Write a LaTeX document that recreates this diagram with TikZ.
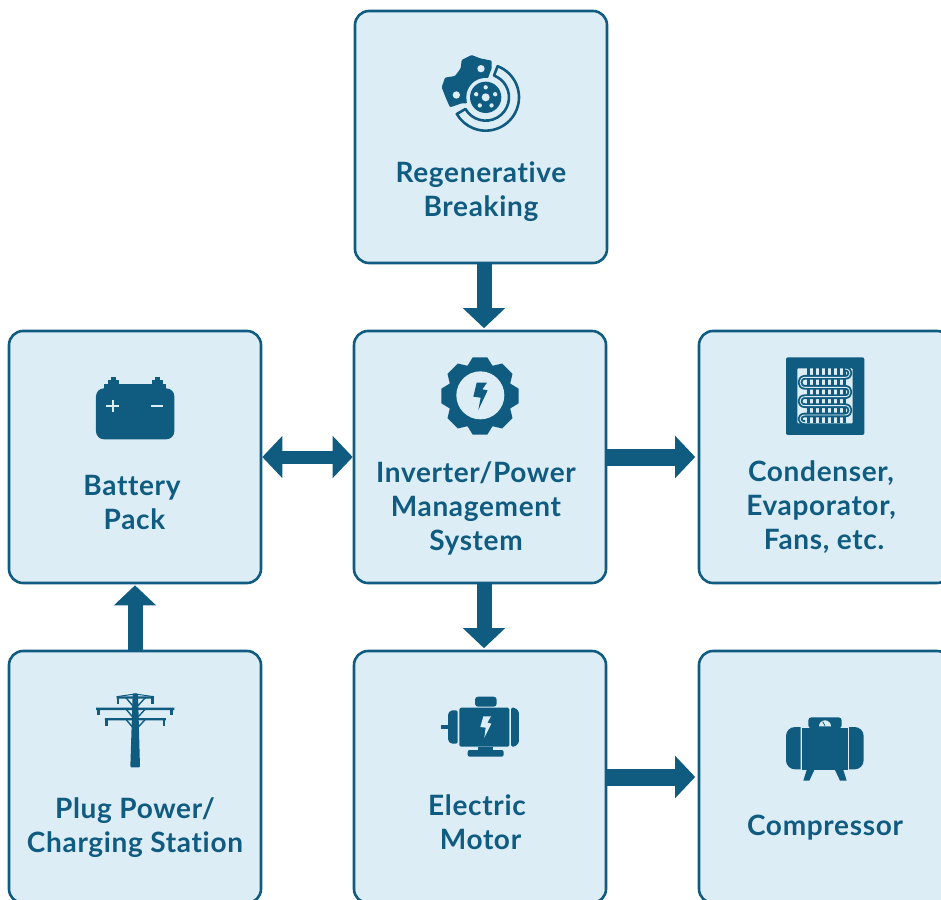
\documentclass[tikz,border=0pt]{standalone}
\usepackage{fontspec}
\setmainfont{Lato}[LetterSpace=2.4,Ligatures=NoCommon]
\usetikzlibrary{arrows.meta}
\definecolor{teal}{HTML}{0F5C80}
\definecolor{pale}{HTML}{DDEDF6}
\tikzset{
    iconzoom/.style={x=0.3333pt,y=-0.3333pt},
    blockarrow/.style={draw=teal,line width=15pt,-{Triangle[length=20pt,width=41pt]}},
    darkfill/.style={fill=teal,draw=none},
    palefill/.style={fill=pale,draw=none}
}
\begin{document}
\begin{tikzpicture}[x=1pt,y=-1pt,line join=round]
    \useasboundingbox (0,0) rectangle (941,899);
    \clip (0,0) rectangle (941,899);
    \begin{scope}[every node/.style={rectangle,draw=teal,fill=pale,line width=2.6pt,rounded corners=14pt,minimum size=252pt}]
        \node (regen) at (481,137) {};
        \node (battery) at (135,457) {};
        \node (inverter) at (480,457) {};
        \node (condenser) at (825,457) {};
        \node (plug) at (135,777) {};
        \node (motor) at (480,777) {};
        \node (compressor) at (825,777) {};
    \end{scope}
    \begin{scope}[every node/.style={text=teal,font=\fontsize{28}{34}\bfseries\selectfont,align=center}]
        \node (regentext) at (481,192) {Regenerative\\Breaking};
        \node (batterytext) at (132,502) {Battery\\\hspace*{5pt}Pack};
        \node (invertertext) at (476,508) {Inverter/Power\\Management\\System};
        \node (condensertext) at (821,507) {Condenser,\\Evaporator,\\\hspace*{6pt}Fans, etc.};
        \node (plugtext) at (135,828) {Plug Power/\\Charging Station};
        \node (motortext) at (477,822) {Electric\\\hspace*{7pt}Motor};
        \node (compressortext) at (825,828) {Compressor};
    \end{scope}
    \draw[blockarrow,shorten >=1.5pt] ([xshift=3pt]regen.south) -- ([xshift=4pt]inverter.north);
    \draw[blockarrow,shorten >=1.5pt] ([xshift=4pt]inverter.south) -- ([xshift=4pt]motor.north);
    \draw[blockarrow,shorten >=1pt] (plug.north) -- (battery.south);
    \draw[blockarrow,line width=17pt,shorten >=2.5pt] (inverter.east) -- (condenser.west);
    \draw[blockarrow,line width=17pt,shorten >=2.5pt] (motor.east) -- (compressor.west);
    \draw[blockarrow,line width=13pt,{Triangle[length=20pt,width=41pt]}-{Triangle[length=20pt,width=41pt]}] (battery.east) -- (inverter.west);
    % brake
    \begin{scope}[shift={(420,40)},iconzoom]
        \fill[teal,rounded corners=1pt] (65,142) -- (75,113) -- (105,108) -- (122,85) -- (125,60) -- (155,45) -- (180,55) -- (215,62) -- (215,85) -- (200,125) -- (140,190) -- (125,190) -- (90,202) -- (78,175) -- cycle;
        \fill[palefill] (197,172) circle (58);
        \fill[darkfill] (197,172) circle (47);
        \fill[palefill] (197,172) circle (12);
        \foreach \a in {-90,-18,54,126,198}
            \fill[palefill] (197,172) ++(\a:30) circle (6.5);
        \fill[palefill] (183,86) circle (11) (109,165) circle (11);
        \draw[teal,line width=2.6pt] ([shift={(197,172)}]-69:100) arc[start angle=-69,end angle=150,radius=100] -- ([shift={(197,172)}]150:70) arc[start angle=150,end angle=-69,radius=70] -- cycle;
    \end{scope}
    % battery
    \begin{scope}[shift={(80,360)},iconzoom]
        \fill[darkfill,rounded corners=8pt] (48,85) rectangle (283,238);
        \fill[darkfill] (72,73) rectangle (258,95);
        \foreach \t in {100,232} {
            \fill[darkfill] (\t-16,60) rectangle (\t+16,71);
            \fill[darkfill] (\t-8,52) rectangle (\t+8,62);
        }
        \draw[pale,line width=1.8pt] (79,138) -- (117,138) (98,119) -- (98,157) (212,138) -- (250,138);
    \end{scope}
    % gear
    \begin{scope}[shift={(425,345)},iconzoom]
        \foreach \a in {0,45,...,315}
            \fill[darkfill,rotate around={\a:(165,153)}] (143,37) -- (187,37) -- (210,75) -- (120,75) -- cycle;
        \fill[darkfill] (165,153) circle (98);
        \fill[palefill] (166,151) circle (72);
        \fill[teal] (155,113) -- (186,113) -- (172,133) -- (188,136) -- (160,195) -- (167,158) -- (145,155) -- cycle;
    \end{scope}
    % condenser
    \begin{scope}[shift={(770,345)},iconzoom]
        \fill[darkfill,rounded corners=2pt] (48,37) rectangle (283,270);
        \fill[palefill,rounded corners=1pt] (82,70) rectangle (248,235);
        \foreach \x in {116,134,...,224}
            \draw[teal,line width=2.9pt] (\x,70) -- (\x,235);
        \draw[teal,line width=1.9pt,double=pale,double distance=0.9pt] (225,72) .. controls (245,72) and (245,97) .. (225,97) -- (105,97) .. controls (85,97) and (85,127) .. (105,127) -- (225,127) .. controls (245,127) and (245,155) .. (225,155) -- (105,155) .. controls (85,155) and (85,182) .. (105,182) -- (225,182) .. controls (245,182) and (245,210) .. (225,210) -- (105,210) .. controls (85,210) and (85,233) .. (105,233);
    \end{scope}
    % tower
    \begin{scope}[shift={(85,680)},iconzoom]
        \fill[darkfill,rounded corners=1pt] (143,40) -- (159,40) -- (165,262) -- (136,262) -- cycle;
        \fill[darkfill] (95,49) rectangle (207,56) (33,83) rectangle (268,90) (60,114) rectangle (243,121);
        \draw[teal,line width=1pt] (95,50) -- (150,42) -- (207,50);
        \foreach \y/\x in {52/99,52/202,86/41,86/260,117/64,117/237}
            \fill[darkfill] (\x-4,\y) rectangle (\x+4,\y+20);
        \foreach \y in {52,86,117}
            \draw[teal,line width=1.4pt] (122,\y) -- (143,\y+25) (182,\y) -- (159,\y+25);
    \end{scope}
    % motor
    \begin{scope}[shift={(430,685)},iconzoom]
        \fill[darkfill,rounded corners=1.5pt] (88,68) rectangle (238,185);
        \fill[darkfill,rounded corners=1.5pt] (243,68) -- (255,68) -- (267,80) -- (267,173) -- (255,185) -- (243,185) -- cycle;
        \fill[darkfill,rounded corners=1.5pt] (83,76) -- (62,76) -- (54,86) -- (54,166) -- (62,176) -- (83,176) -- cycle;
        \fill[darkfill] (33,120) rectangle (54,133);
        \fill[darkfill,rounded corners=3pt] (135,65) -- (135,35) -- (200,35) -- (200,65) -- cycle;
        \fill[darkfill] (145,185) rectangle (190,197);
        \fill[darkfill,rounded corners=2pt] (113,215) -- (113,195) -- (221,195) -- (221,215) -- cycle;
        \fill[pale] (160,94) -- (183,94) -- (172,113) -- (184,116) -- (163,158) -- (167,128) -- (151,126) -- cycle;
    \end{scope}
    % compressor
    \begin{scope}[shift={(775,705)},iconzoom]
        \fill[darkfill] (80,68) rectangle (218,195);
        \fill[darkfill] (77,66) [rounded corners=9pt] -- (33,66) -- (33,193) [sharp corners] -- (77,193) -- cycle;
        \fill[darkfill] (222,66) [rounded corners=9pt] -- (266,66) -- (266,193) [sharp corners] -- (222,193) -- cycle;
        \fill[darkfill,rounded corners=3pt] (100,70) -- (100,37) -- (200,37) -- (200,70) -- cycle;
        \fill[palefill] (132,64) arc[start angle=180,end angle=360,radius=18] -- cycle;
        \draw[teal,line width=0.8pt] (150,62) -- (143,50);
        \fill[darkfill] (95,195) -- (118,195) -- (103,227) -- (85,227) -- cycle;
        \fill[darkfill] (180,195) -- (205,195) -- (215,227) -- (195,227) -- cycle;
    \end{scope}
\end{tikzpicture}
\end{document}
